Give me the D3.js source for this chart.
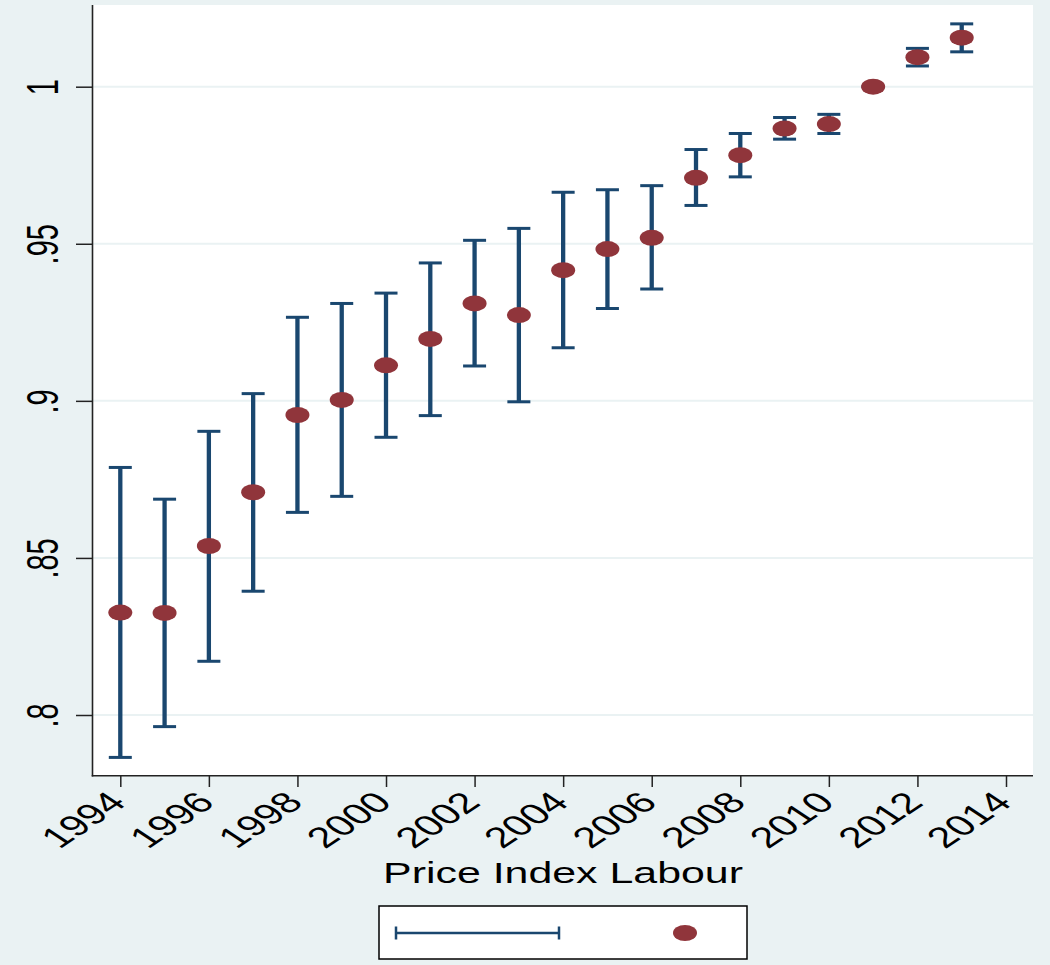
<!DOCTYPE html>
<html>
<head>
<meta charset="utf-8">
<script src="https://cdn.jsdelivr.net/npm/d3@7"></script>
<style>
  html, body { margin: 0; padding: 0; background: #EAF2F3; }
  svg { display: block; }
  text { font-family: "Liberation Sans", Arial, Helvetica, sans-serif; fill: #000; }
</style>
</head>
<body>
<script>
// Yearly point estimates of the labour price index with confidence bounds
const years = [1994, 1995, 1996, 1997, 1998, 1999, 2000, 2001, 2002, 2003,
               2004, 2005, 2006, 2007, 2008, 2009, 2010, 2011, 2012, 2013];
const estimate = [0.8326, 0.8325, 0.8538, 0.8709, 0.8955, 0.9003, 0.9113, 0.9197, 0.9310, 0.9273,
                  0.9416, 0.9483, 0.9519, 0.9710, 0.9782, 0.9867, 0.9881, 1.0000, 1.0094, 1.0156];
const ciLow = [0.7865, 0.7963, 0.8171, 0.8394, 0.8645, 0.8696, 0.8884, 0.8953, 0.9111, 0.8997,
               0.9169, 0.9294, 0.9356, 0.9622, 0.9713, 0.9833, 0.9851, 1.0000, 1.0066, 1.0111];
const ciHigh = [0.8788, 0.8687, 0.8903, 0.9023, 0.9266, 0.9310, 0.9343, 0.9439, 0.9511, 0.9549,
                0.9664, 0.9672, 0.9685, 0.9800, 0.9851, 0.9902, 0.9912, 1.0000, 1.0122, 1.0200];

const yTickValues = [0.8, 0.85, 0.9, 0.95, 1.0];
const yTickLabels = [".8", ".85", ".9", ".95", "1"];
const xTickValues = [1994, 1996, 1998, 2000, 2002, 2004, 2006, 2008, 2010, 2012, 2014];
const xTitle = "Price Index Labour";

const W = 1050, H = 965;
const plot = { left: 93, right: 1033, top: 5, bottom: 776 };
const stretch = 1.5;           // horizontal text/marker aspect
const barColor = "#1A476F";
const dotColor = "#90353B";

const x = d3.scaleLinear().domain([1994, 2014]).range([120.3, 1006]);
const y = d3.scaleLinear().domain([0.8, 1.0]).range([715, 86.7]);

const svg = d3.select("body").append("svg")
  .attr("width", W).attr("height", H);

svg.append("rect").attr("width", W).attr("height", H).attr("fill", "#EAF2F3");

// plot region
svg.append("rect")
  .attr("x", plot.left).attr("y", plot.top)
  .attr("width", plot.right - plot.left).attr("height", plot.bottom - plot.top)
  .attr("fill", "#ffffff");

// horizontal grid lines
svg.append("g").selectAll("line").data(yTickValues).join("line")
  .attr("x1", plot.left).attr("x2", plot.right)
  .attr("y1", d => y(d)).attr("y2", d => y(d))
  .attr("stroke", "#EAF2F3").attr("stroke-width", 2);

const rows = years.map((yr, i) => ({ yr, est: estimate[i], lo: ciLow[i], hi: ciHigh[i] }));

// confidence intervals
const bars = svg.append("g");
bars.selectAll("line.stem").data(rows).join("line")
  .attr("class", "stem")
  .attr("x1", d => x(d.yr)).attr("x2", d => x(d.yr))
  .attr("y1", d => y(d.lo)).attr("y2", d => y(d.hi))
  .attr("stroke", barColor).attr("stroke-width", 4.3);
["lo", "hi"].forEach(k => {
  bars.selectAll("line.cap-" + k).data(rows).join("line")
    .attr("class", "cap-" + k)
    .attr("x1", d => x(d.yr) - 11.5).attr("x2", d => x(d.yr) + 11.5)
    .attr("y1", d => y(d[k])).attr("y2", d => y(d[k]))
    .attr("stroke", barColor).attr("stroke-width", 3);
});

// point estimates
svg.append("g").selectAll("ellipse").data(rows).join("ellipse")
  .attr("cx", d => x(d.yr)).attr("cy", d => y(d.est))
  .attr("rx", 12).attr("ry", 8)
  .attr("fill", dotColor);

// y axis
const yAxis = svg.append("g")
  .attr("transform", `translate(${plot.left},0)`)
  .call(d3.axisLeft(y).tickValues(yTickValues).tickSize(17)
    .tickFormat((d, i) => yTickLabels[i]));
yAxis.select(".domain").remove();
yAxis.selectAll(".tick line").attr("stroke", "#222").attr("stroke-width", 1.5);
yAxis.selectAll(".tick text")
  .attr("x", null).attr("dy", null).attr("fill", "#000")
  .attr("font-size", 29).attr("text-anchor", "middle")
  .attr("transform", `translate(-35.5,0) scale(${stretch},1) rotate(-90)`);

// x axis
const xAxis = svg.append("g")
  .attr("transform", `translate(0,${plot.bottom})`)
  .call(d3.axisBottom(x).tickValues(xTickValues).tickSize(11).tickFormat(d3.format("d")));
xAxis.select(".domain").remove();
xAxis.selectAll(".tick line").attr("stroke", "#222").attr("stroke-width", 1.5);
xAxis.selectAll(".tick text")
  .attr("y", null).attr("dy", null).attr("fill", "#000")
  .attr("font-size", 29).attr("text-anchor", "end")
  .attr("transform", `translate(7,28) scale(${stretch},1) rotate(-45)`);

// axis lines
svg.append("line")
  .attr("x1", plot.left - 0.5).attr("x2", plot.left - 0.5)
  .attr("y1", plot.top).attr("y2", plot.bottom + 0.5)
  .attr("stroke", "#222").attr("stroke-width", 1.6);
svg.append("line")
  .attr("x1", plot.left - 1.3).attr("x2", plot.right)
  .attr("y1", plot.bottom - 0.3).attr("y2", plot.bottom - 0.3)
  .attr("stroke", "#222").attr("stroke-width", 1.6);

// axis title
svg.append("text")
  .attr("transform", `translate(563,883) scale(${stretch},1)`)
  .attr("text-anchor", "middle").attr("font-size", 28.6)
  .text(xTitle);

// legend
const legend = svg.append("g").attr("transform", "translate(379,906)");
legend.append("rect")
  .attr("width", 368).attr("height", 53)
  .attr("fill", "#fff").attr("stroke", "#000").attr("stroke-width", 1.5);
legend.append("line")
  .attr("x1", 17).attr("x2", 180).attr("y1", 27).attr("y2", 27)
  .attr("stroke", barColor).attr("stroke-width", 2.3);
[17, 180].forEach(px => legend.append("line")
  .attr("x1", px).attr("x2", px).attr("y1", 20.5).attr("y2", 33.5)
  .attr("stroke", barColor).attr("stroke-width", 2.5));
legend.append("ellipse")
  .attr("cx", 306).attr("cy", 27).attr("rx", 12).attr("ry", 8)
  .attr("fill", dotColor);
</script>
</body>
</html>
